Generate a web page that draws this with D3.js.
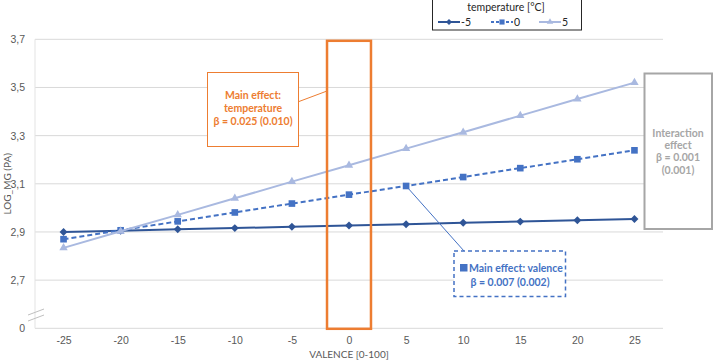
<!DOCTYPE html>
<html>
<head>
<meta charset="utf-8">
<script src="https://cdn.jsdelivr.net/npm/d3@7"></script>
<style>
  body { margin: 0; background: #fff; }
  svg { display: block; font-family: Lato, "Liberation Sans", sans-serif; }
</style>
</head>
<body>
<div id="chart"></div>
<script>
// Chart data
const valence = [-25, -20, -15, -10, -5, 0, 5, 10, 15, 20, 25];
const tempMinus5 = [2.900, 2.905, 2.911, 2.916, 2.922, 2.927, 2.932, 2.938, 2.943, 2.949, 2.954];
const temp0 = [2.870, 2.907, 2.944, 2.981, 3.018, 3.055, 3.091, 3.128, 3.165, 3.202, 3.239];
const temp5 = [2.834, 2.903, 2.971, 3.040, 3.109, 3.177, 3.246, 3.314, 3.383, 3.452, 3.520];
const seriesNames = ['-5', '0', '5'];
const yTicks = [2.5, 2.7, 2.9, 3.1, 3.3, 3.5, 3.7];
const yTickLabels = ['0', '2,7', '2,9', '3,1', '3,3', '3,5', '3,7'];

const width = 713;
const height = 362;
const plot = { left: 35, right: 663, top: 39.3, bottom: 328.3 };

const svg = d3.select('#chart').append('svg')
  .attr('width', width)
  .attr('height', height);

const x = d3.scalePoint()
  .domain(valence)
  .range([plot.left, plot.right])
  .padding(0.5);

const y = d3.scaleLinear()
  .domain([2.5, 3.7])
  .range([plot.bottom, plot.top]);

// Gridlines
svg.append('g')
  .selectAll('line')
  .data(yTicks)
  .join('line')
  .attr('x1', plot.left)
  .attr('x2', plot.right)
  .attr('y1', d => y(d))
  .attr('y2', d => y(d))
  .attr('stroke', '#d9d9d9')
  .attr('stroke-width', 1);

// faint y axis line
svg.append('line')
  .attr('x1', plot.left).attr('x2', plot.left)
  .attr('y1', plot.top).attr('y2', plot.bottom)
  .attr('stroke', '#e3e3e3');

// Y axis (labels only)
const yAxis = d3.axisLeft(y)
  .tickValues(yTicks)
  .tickFormat((d, i) => yTickLabels[i])
  .tickSize(0)
  .tickPadding(10);

svg.append('g')
  .attr('transform', `translate(${plot.left},0)`)
  .call(yAxis)
  .call(g => g.select('.domain').remove())
  .call(g => g.selectAll('text')
    .attr('fill', '#595959')
    .attr('font-size', 10.5)
    .attr('font-family', 'inherit'));

// axis break marks
[0, 6].forEach(off => {
  svg.append('line')
    .attr('x1', 28).attr('y1', 315 + off)
    .attr('x2', 44).attr('y2', 309 + off)
    .attr('stroke', '#bfbfbf')
    .attr('stroke-width', 1);
});

// X axis (labels only)
const xAxis = d3.axisBottom(x)
  .tickSize(0)
  .tickPadding(8);

svg.append('g')
  .attr('transform', `translate(0,${plot.bottom})`)
  .call(xAxis)
  .call(g => g.select('.domain').remove())
  .call(g => g.selectAll('text')
    .attr('fill', '#595959')
    .attr('font-size', 10.5)
    .attr('font-family', 'inherit'));

// Axis titles
svg.append('text')
  .attr('x', x(0))
  .attr('y', 358)
  .attr('text-anchor', 'middle')
  .attr('fill', '#595959')
  .attr('font-size', 10)
  .text('VALENCE [0-100]');

svg.append('text')
  .attr('transform', `translate(11,${(plot.top + plot.bottom) / 2}) rotate(-90)`)
  .attr('text-anchor', 'middle')
  .attr('fill', '#595959')
  .attr('font-size', 10)
  .text('LOG_MG (PA)');

// Series
const series = [
  { name: seriesNames[0], values: tempMinus5, color: '#2F5597', dash: null, marker: d3.symbolDiamond2, size: 40 },
  { name: seriesNames[1], values: temp0, color: '#4472C4', dash: '5,3', marker: d3.symbolSquare2, size: 56 },
  { name: seriesNames[2], values: temp5, color: '#A9B9E0', dash: null, marker: d3.symbolTriangle2, size: 50 }
];

const line = d3.line()
  .x((d, i) => x(valence[i]))
  .y(d => y(d));

series.forEach(s => {
  const g = svg.append('g');
  g.append('path')
    .datum(s.values)
    .attr('d', line)
    .attr('fill', 'none')
    .attr('stroke', s.color)
    .attr('stroke-width', 2)
    .attr('stroke-dasharray', s.dash);
  g.selectAll('path.mk')
    .data(s.values)
    .join('path')
    .attr('class', 'mk')
    .attr('transform', (d, i) => `translate(${x(valence[i])},${y(d)})`)
    .attr('d', d3.symbol(s.marker, s.size))
    .attr('fill', s.color);
});

// Legend
const legend = svg.append('g');
legend.append('rect')
  .attr('x', 432.5).attr('y', -1)
  .attr('width', 149).attr('height', 31)
  .attr('fill', '#fff')
  .attr('stroke', '#262626')
  .attr('stroke-width', 1);
legend.append('text')
  .attr('x', 506).attr('y', 11)
  .attr('text-anchor', 'middle')
  .attr('font-size', 10.5)
  .attr('fill', '#262626')
  .text('temperature [°C]');

const legendX = [438, 491, 539];
series.forEach((s, i) => {
  const lx = legendX[i];
  legend.append('line')
    .attr('x1', lx).attr('x2', lx + 22)
    .attr('y1', 22).attr('y2', 22)
    .attr('stroke', s.color)
    .attr('stroke-width', 2)
    .attr('stroke-dasharray', s.dash ? '3,2' : null);
  legend.append('path')
    .attr('transform', `translate(${lx + 11},22)`)
    .attr('d', d3.symbol(s.marker, s.size * 0.6))
    .attr('fill', s.color);
  legend.append('text')
    .attr('x', lx + 23).attr('y', 26)
    .attr('font-size', 10.5)
    .attr('fill', '#262626')
    .text(s.name);
});

// Orange highlight around valence 0
const step = x.step();
svg.append('rect')
  .attr('x', x(0) - step * 0.385)
  .attr('y', y(3.7) + 1.5)
  .attr('width', step * 0.77)
  .attr('height', y(2.5) - y(3.7) - 1)
  .attr('fill', 'none')
  .attr('stroke', '#ED7D31')
  .attr('stroke-width', 2.5);

// Callout: temperature
const orange = '#ED7D31';
svg.append('line')
  .attr('x1', 299).attr('y1', 101.5)
  .attr('x2', x(0) - step * 0.385).attr('y2', 91)
  .attr('stroke', orange).attr('stroke-width', 1);
svg.append('rect')
  .attr('x', 207.5).attr('y', 72.5)
  .attr('width', 91).attr('height', 74)
  .attr('fill', '#fff')
  .attr('stroke', orange).attr('stroke-width', 1);
['Main effect:', 'temperature', 'β = 0.025 (0.010)'].forEach((t, i) => {
  svg.append('text')
    .attr('x', 253).attr('y', 98.5 + i * 13)
    .attr('text-anchor', 'middle')
    .attr('font-size', 10.5)
    .attr('font-weight', 700)
    .attr('fill', orange)
    .text(t);
});

// Callout: interaction
const grey = '#A6A6A6';
svg.append('rect')
  .attr('x', 644.5).attr('y', 73.5)
  .attr('width', 67.5).attr('height', 155.5)
  .attr('fill', '#fff')
  .attr('stroke', grey).attr('stroke-width', 2);
['Interaction', 'effect', 'β = 0.001', '(0.001)'].forEach((t, i) => {
  svg.append('text')
    .attr('x', 678).attr('y', 136.5 + i * 12.4)
    .attr('text-anchor', 'middle')
    .attr('font-size', 10.5)
    .attr('font-weight', 700)
    .attr('fill', grey)
    .text(t);
});

// Callout: valence
const blue = '#4472C4';
svg.append('line')
  .attr('x1', x(5)).attr('y1', y(temp0[6]))
  .attr('x2', 464).attr('y2', 251)
  .attr('stroke', blue).attr('stroke-width', 1);
svg.append('rect')
  .attr('x', 454).attr('y', 251)
  .attr('width', 111.5).attr('height', 45.5)
  .attr('fill', '#fff')
  .attr('stroke', blue).attr('stroke-width', 1.5)
  .attr('stroke-dasharray', '4,3');
svg.append('rect')
  .attr('x', 460).attr('y', 264)
  .attr('width', 7.5).attr('height', 7.5)
  .attr('fill', blue);
svg.append('text')
  .attr('x', 469).attr('y', 272)
  .attr('font-size', 10.5)
  .attr('font-weight', 700)
  .attr('fill', blue)
  .text('Main effect: valence');
svg.append('text')
  .attr('x', 510).attr('y', 285.5)
  .attr('text-anchor', 'middle')
  .attr('font-size', 10.5)
  .attr('font-weight', 700)
  .attr('fill', blue)
  .text('β = 0.007 (0.002)');
</script>
</body>
</html>
